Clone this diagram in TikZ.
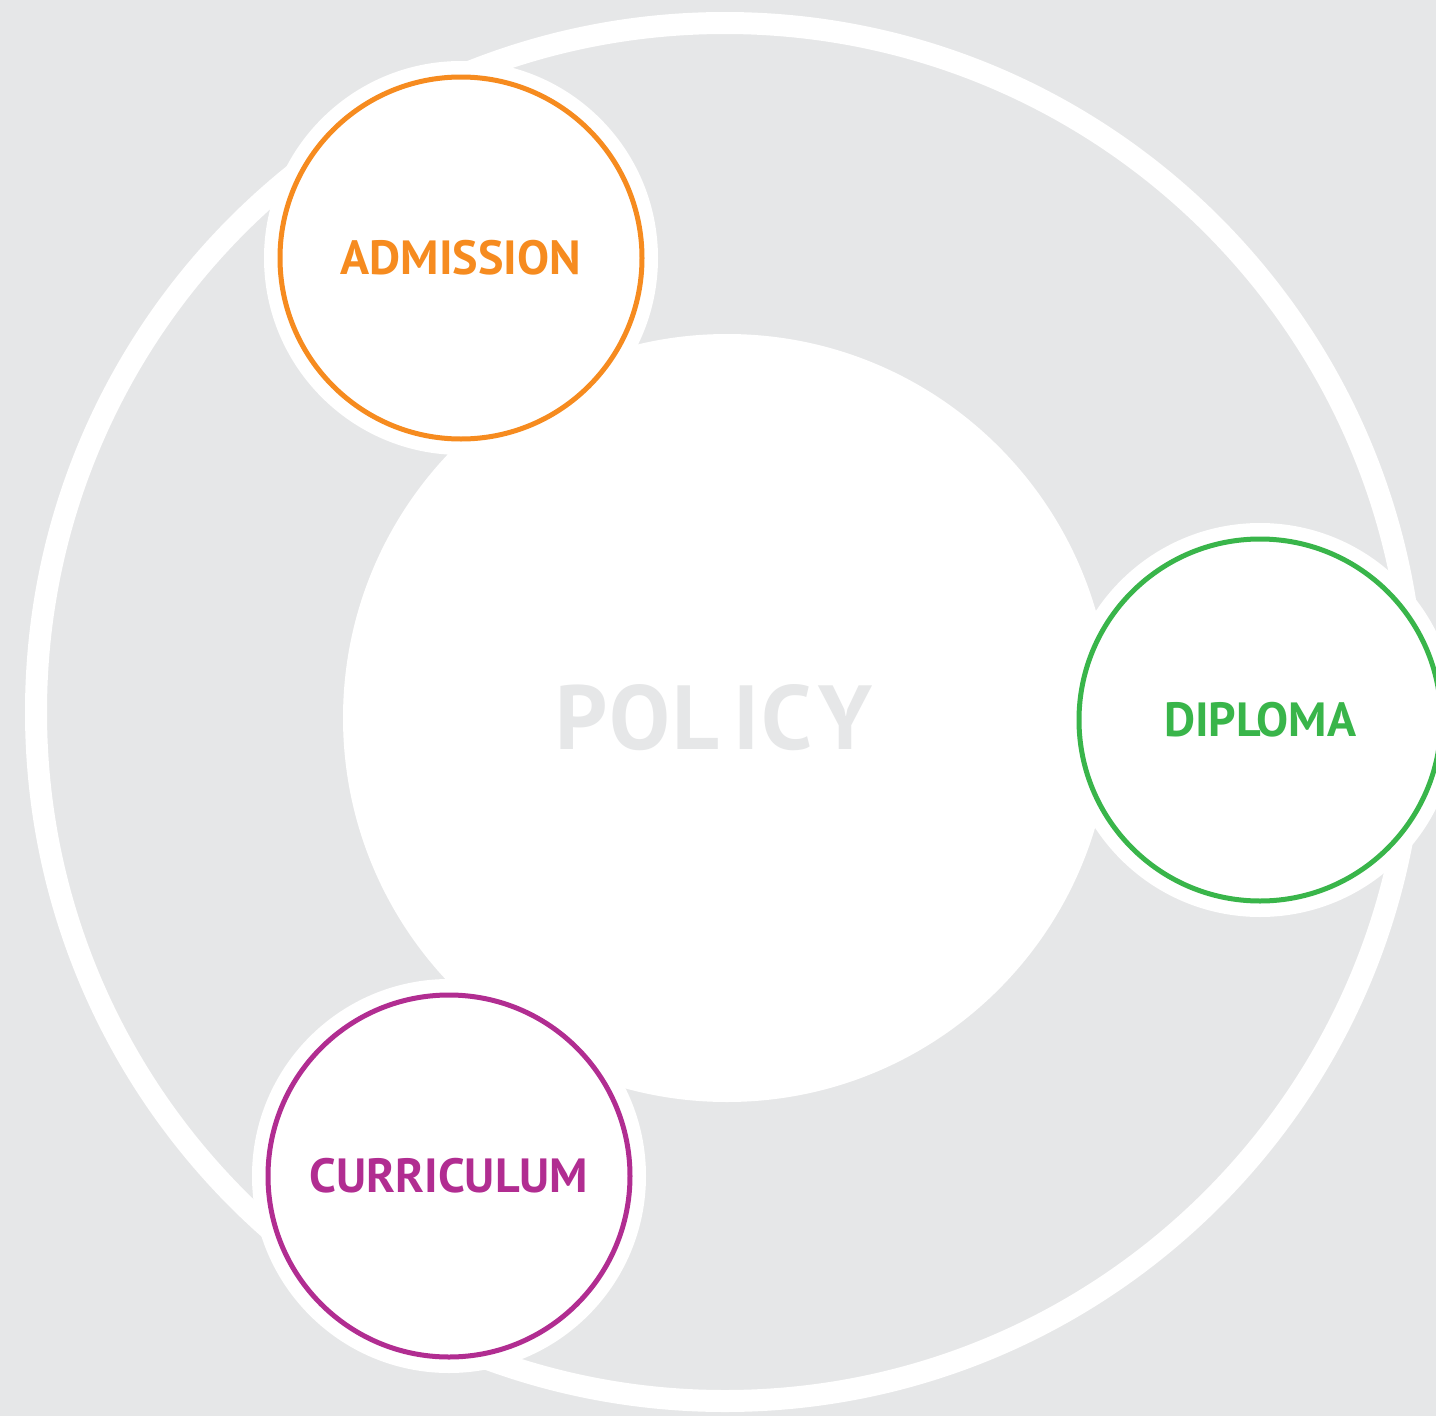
\documentclass[tikz,border=0pt]{standalone}
\usepackage{fontspec}
\newfontfamily\dinfont{PT Sans}
\usepackage{tikz}
\usetikzlibrary{positioning}
\definecolor{bggray}{RGB}{230,231,232}
\definecolor{admorange}{RGB}{246,139,31}
\definecolor{dipgreen}{RGB}{57,181,74}
\definecolor{curmagenta}{RGB}{177,45,145}

\begin{document}
\begin{tikzpicture}[x=1pt, y=-1pt] %Policy cycle
    \tikzstyle{halo} = [circle, fill=white, minimum size=394pt, inner sep=0pt]
    \tikzstyle{topic} = [circle, draw, line width=5pt, fill=white, minimum size=362pt, inner sep=0pt, text centered, font=\dinfont\bfseries\fontsize{48}{52}\selectfont]
    \useasboundingbox (0,0) rectangle (1436,1416);
    \fill[bggray] (0,0) rectangle (1436,1416);
    \node[circle, draw=white, line width=22pt, minimum size=1378pt, inner sep=0pt] (R) at (725,712) {};
    \node[circle, fill=white, minimum size=768pt, inner sep=0pt] (P) at (727,718) {};
    \node[text=bggray, font=\dinfont\bfseries\fontsize{91}{96}\selectfont] (PL) at (714,718) {P\kern2pt O\kern2pt L\kern14pt I\kern2pt C\kern6pt Y};
    \node[halo] (H1) at (461,258) {};
    \node[halo] (H2) at (1260,720) {};
    \node[halo] (H3) at (449,1176) {};
    \node[topic, draw=admorange, text=admorange] (T1) at (H1) {ADMISSION};
    \node[topic, draw=dipgreen, text=dipgreen] (T2) at (H2) {DIPLOMA};
    \node[topic, draw=curmagenta, text=curmagenta] (T3) at (H3) {CURRICULUM};
\end{tikzpicture}
\end{document}
